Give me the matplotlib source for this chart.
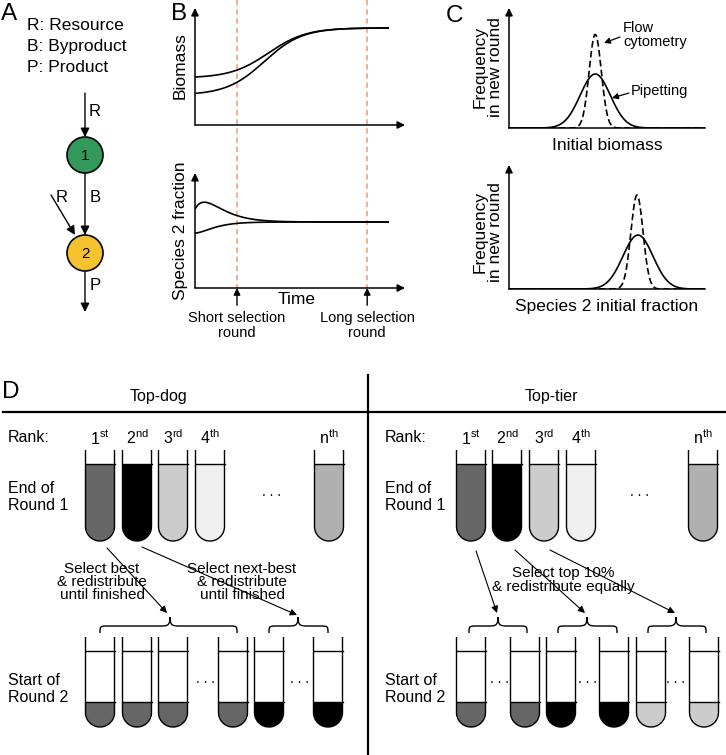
import numpy as np
import matplotlib
matplotlib.use("Agg")
import matplotlib.pyplot as plt
from matplotlib.patches import Circle, Polygon, PathPatch
from matplotlib.path import Path

plt.rcParams["font.family"] = ["Liberation Sans", "DejaVu Sans"]
plt.rcParams["mathtext.fontset"] = "custom"
plt.rcParams["mathtext.rm"] = "Liberation Sans"
plt.rcParams["mathtext.it"] = "Liberation Sans:italic"

W, H = 726, 755

# ---- data -------------------------------------------------------------
legend_lines = ["R: Resource", "B: Byproduct", "P: Product"]

# panel B: schematic growth curves (logistic) and fraction relaxation
biomass_start = [0.41, 0.27]
biomass_plateau = 0.83
biomass_mid = [3.5, 3.3]
biomass_width = [0.9, 0.9]
t_end = 9.2
frac_eq = 0.574
frac_start = [0.687, 0.478]
frac_kick = [0.5, 0.0]
frac_rate = [1.5, 1.8]
select_times = [2.0, 8.2]
select_labels = ["Short selection\nround", "Long selection\nround"]

# panel C: distributions of starting values (centre, sd, peak)
c_top_solid = (0.44, 0.077, 0.45)
c_top_dash = (0.44, 0.031, 0.78)
c_bot_solid = (0.658, 0.077, 0.435)
c_bot_dash = (0.653, 0.031, 0.758)

# panel D
ranks = [r"1$^{\rm st}$", r"2$^{\rm nd}$", r"3$^{\rm rd}$", r"4$^{\rm th}$", r"n$^{\rm th}$"]
round1_colors = ["#666666", "#000000", "#cccccc", "#f0f0f0", "#b0b0b0"]
dog_round2 = ["#666666", "#666666", "#666666", "#666666", "#000000", "#000000"]
tier_round2 = ["#666666", "#666666", "#000000", "#000000", "#cccccc", "#cccccc"]

fig = plt.figure(figsize=(W / 100, H / 100), dpi=100)
ov = fig.add_axes([0, 0, 1, 1])
ov.set_xlim(0, W)
ov.set_ylim(H, 0)
ov.axis("off")


def px_axes(x0, y0, x1, y1):
    a = fig.add_axes([x0 / W, 1 - y1 / H, (x1 - x0) / W, (y1 - y0) / H])
    a.patch.set_visible(False)
    for s in a.spines.values():
        s.set_visible(False)
    a.set_xticks([])
    a.set_yticks([])
    a.set_xlim(0, 1)
    a.set_ylim(0, 1)
    return a


def axis_arrows(a, xarrow=True):
    ap = dict(arrowstyle="-|>", lw=1.1, color="k", mutation_scale=11,
              shrinkA=0, shrinkB=0)
    a.annotate("", xy=(0, 1), xytext=(0, 0), xycoords="axes fraction",
               arrowprops=ap, annotation_clip=False)
    if xarrow:
        a.annotate("", xy=(1, 0), xytext=(0, 0), xycoords="axes fraction",
                   arrowprops=ap, annotation_clip=False)
    else:
        a.plot([0, 1], [0, 0], color="k", lw=1.1, transform=a.transAxes,
               clip_on=False)


def arrow(x0, y0, x1, y1, lw=1.0, ms=13):
    ov.annotate("", xy=(x1, y1), xytext=(x0, y0),
                arrowprops=dict(arrowstyle="-|>", lw=lw, color="k",
                                mutation_scale=ms, shrinkA=0, shrinkB=0))


# ---- panel letters ----------------------------------------------------
for lab, x, y in [("A", 1, 14), ("B", 171, 14), ("C", 446, 16), ("D", 2, 392)]:
    ov.text(x, y, lab, fontsize=17.5, va="center", ha="left")

# ---- panel A ----------------------------------------------------------
for i, s in enumerate(legend_lines):
    ov.text(27, 25 + i * 21.5, s, fontsize=12.5, va="center")
arrow(85, 93, 85, 137)
arrow(85, 173, 85, 235)
arrow(51, 195, 75, 235)
arrow(85, 272, 85, 312)
ov.add_patch(Circle((85, 155), 18, fc="#33995a", ec="k", lw=1.2))
ov.add_patch(Circle((85, 253), 18, fc="#f6c330", ec="k", lw=1.2))
ov.text(85, 156, "1", fontsize=11, ha="center", va="center")
ov.text(85, 254, "2", fontsize=11, ha="center", va="center")
for s, x, y in [("R", 95, 112), ("B", 95, 198), ("R", 62, 198), ("P", 95, 286)]:
    ov.text(x, y, s, fontsize=12, ha="center", va="center")

# ---- panel B ----------------------------------------------------------
t = np.linspace(0, t_end, 400)
bt = px_axes(195, 8, 405, 125)
bt.set_xlim(0, 10)
axis_arrows(bt)
for y0, tc, w in zip(biomass_start, biomass_mid, biomass_width):
    s0 = 1 / (1 + np.exp(tc / w))
    s = (1 / (1 + np.exp(-(t - tc) / w)) - s0) / (1 - s0)
    bt.plot(t, y0 + (biomass_plateau - y0) * s, color="k", lw=1.2)
for ts in select_times:
    bt.plot([ts, ts], [1.068, -1.393], color="#f39a6b", lw=1.1,
            ls=(0, (3.5, 2.5)), clip_on=False, zorder=0)

bb = px_axes(195, 173, 405, 288)
bb.set_xlim(0, 10)
axis_arrows(bb)
for f0, kick, k in zip(frac_start, frac_kick, frac_rate):
    a0 = f0 - frac_eq
    b0 = kick if kick else a0 * k
    bb.plot(t, frac_eq + (a0 + b0 * t) * np.exp(-k * t), color="k", lw=1.2)
for ts, lab in zip(select_times, select_labels):
    bb.annotate("", xy=(ts, 0), xytext=(ts, -0.15),
                arrowprops=dict(arrowstyle="-|>", lw=1.0, color="k",
                                mutation_scale=10, shrinkA=0, shrinkB=0),
                annotation_clip=False)
    bb.text(ts, -0.2, lab, fontsize=10.5, ha="center", va="top",
            linespacing=1.05, clip_on=False)
bb.text(4.86, -0.1, "Time", fontsize=12.5, ha="center", va="center")
ov.text(180, 66, "Biomass", fontsize=12.5, rotation=90, ha="center", va="center")
ov.text(180, 231, "Species 2 fraction", fontsize=12.5, rotation=90,
        ha="center", va="center")

# ---- panel C ----------------------------------------------------------
xg = np.linspace(0, 1, 500)


def gauss(a, mu, sd, amp, **kw):
    a.plot(xg, amp * np.exp(-0.5 * ((xg - mu) / sd) ** 2), color="k", lw=1.2, **kw)


ct = px_axes(509, 8, 705, 128)
axis_arrows(ct, xarrow=False)
gauss(ct, *c_top_solid)
gauss(ct, *c_top_dash, ls=(0, (4, 2)))
cb = px_axes(509, 165, 705, 289)
axis_arrows(cb, xarrow=False)
gauss(cb, *c_bot_solid)
gauss(cb, *c_bot_dash, ls=(0, (4, 2)))

ov.text(607, 146, "Initial biomass", fontsize=12.5, ha="center", va="center")
ov.text(607, 307, "Species 2 initial fraction", fontsize=12.5,
        ha="center", va="center")
for yc in (67, 232):
    ov.text(488, yc, "Frequency\nin new round", fontsize=12.5, rotation=90,
            ha="center", va="center", linespacing=1.0)
ov.text(623, 35, "Flow\ncytometry", fontsize=10.5, ha="left", va="center",
        linespacing=1.0)
arrow(620, 37, 604, 43, lw=0.9, ms=9)
ov.text(631, 91, "Pipetting", fontsize=10.5, ha="left", va="center")
arrow(629, 93, 612, 98, lw=0.9, ms=9)

# ---- panel D ----------------------------------------------------------
ov.plot([3, W], [412, 412], color="k", lw=1.6)
ov.plot([368, 368], [375, H], color="k", lw=1.6)
ov.text(158, 397, "Top-dog", fontsize=11.5, ha="center", va="center")
ov.text(551, 397, "Top-tier", fontsize=11.5, ha="center", va="center")

TW = 29


def tube(cx, top, level, bottom, color, rim=None):
    r = TW / 2
    yc = bottom - r
    th = np.linspace(np.pi, 0, 50)
    ax_ = cx + r * np.cos(th)
    ay_ = yc + r * np.sin(th)
    body = [(cx - r, level)] + list(zip(ax_, ay_)) + [(cx + r, level)]
    ov.add_patch(Polygon(body, closed=True, fc=color, ec="none"))
    outline = [(cx - r, top)] + list(zip(ax_, ay_)) + [(cx + r, top)]
    ov.add_patch(Polygon(outline, closed=False, fill=False, ec="k", lw=1.0))
    ov.plot([cx - r, cx + r], [level, level], color="k", lw=1.0)
    if rim is not None:
        ov.plot([cx - r, cx + r], [rim, rim], color="k", lw=1.0)


def brace(x0, x1, xm, ye=633, ym=626, yt=617, k=9):
    verts = [(x0, ye), (x0, ym), (x0, ym), (x0 + k, ym),
             (xm - k, ym), (xm - 2, ym), (xm, ym - 1), (xm, yt),
             (xm, ym - 1), (xm + 2, ym), (xm + k, ym),
             (x1 - k, ym), (x1, ym), (x1, ym), (x1, ye)]
    codes = [Path.MOVETO, Path.CURVE4, Path.CURVE4, Path.CURVE4,
             Path.LINETO, Path.CURVE4, Path.CURVE4, Path.CURVE4,
             Path.CURVE4, Path.CURVE4, Path.CURVE4,
             Path.LINETO, Path.CURVE4, Path.CURVE4, Path.CURVE4]
    ov.add_patch(PathPatch(Path(verts, codes), fill=False, ec="k", lw=1.0))


DOTS = ". . ."
sides = [
    dict(x_lab=8, r1=[100, 137, 173, 210, 329], dots1=272,
         r2=[100, 137, 173, 233, 269, 328], c2=dog_round2, dots2=[205, 300],
         braces=[(100, 237, 170), (269, 328, 298)],
         arrows=[(107, 548, 167, 613), (142, 547, 297, 615)]),
    dict(x_lab=385, r1=[471, 507, 544, 581, 703], dots1=640,
         r2=[471, 525, 561, 614, 651, 704], c2=tier_round2, dots2=[500, 588, 676],
         braces=[(469, 527, 498), (558, 617, 587), (648, 706, 676)],
         arrows=[(476, 551, 497, 613), (515, 550, 585, 613), (550, 550, 675, 613)]),
]
for sd in sides:
    ov.text(sd["x_lab"], 438, "Rank:", fontsize=11.5, va="center")
    ov.text(sd["x_lab"], 497, "End of\nRound 1", fontsize=11.5, va="center",
            linespacing=1.1)
    ov.text(sd["x_lab"], 689, "Start of\nRound 2", fontsize=11.5, va="center",
            linespacing=1.1)
    for cx, lab, col in zip(sd["r1"], ranks, round1_colors):
        ov.text(cx, 438, lab, fontsize=11.5, ha="center", va="center")
        tube(cx, 450, 464, 541, col)
    ov.text(sd["dots1"], 492, DOTS, fontsize=10, ha="center", va="center")
    for cx, col in zip(sd["r2"], sd["c2"]):
        tube(cx, 637, 702, 727, col, rim=651)
    for xd in sd["dots2"]:
        ov.text(xd, 679, DOTS, fontsize=10, ha="center", va="center")
    for b in sd["braces"]:
        brace(*b)
    for a in sd["arrows"]:
        arrow(*a, lw=0.8, ms=10)

ov.text(102, 582, "Select best\n& redistribute\nuntil finished", fontsize=11,
        ha="center", va="center", linespacing=0.95)
ov.text(242, 582, "Select next-best\n& redistribute\nuntil finished", fontsize=11,
        ha="center", va="center", linespacing=0.95)
ov.text(563, 580, "Select top 10%\n& redistribute equally", fontsize=11,
        ha="center", va="center", linespacing=0.95)

fig.savefig("out.png", dpi=100)
